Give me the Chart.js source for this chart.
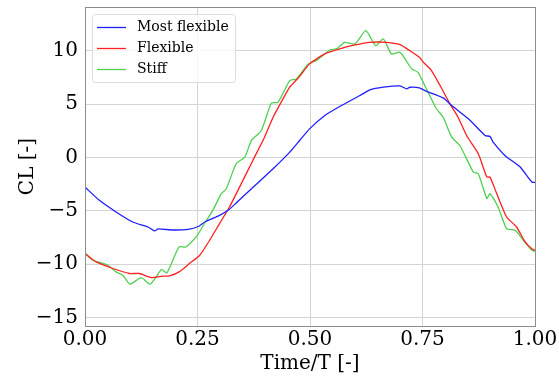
<!DOCTYPE html>
<html>
<head>
<meta charset="utf-8">
<script src="https://cdn.jsdelivr.net/npm/chart.js@4"></script>
<style>
  html, body { margin: 0; padding: 0; background: #fff; }
  #wrap { width: 559px; height: 376px; }
</style>
</head>
<body>
<div id="wrap"><canvas id="clChart" width="559" height="376"></canvas></div>
<script>
// Most flexible
const tMost = [0, 0.032, 0.069, 0.106, 0.14, 0.155, 0.162, 0.195, 0.229, 0.253, 0.266, 0.299, 0.318, 0.336, 0.37, 0.418, 0.455, 0.477, 0.499, 0.533, 0.566, 0.611, 0.633, 0.663, 0.7, 0.715, 0.722, 0.743, 0.759, 0.796, 0.815, 0.852, 0.889, 0.9, 0.907, 0.933, 0.967, 0.993, 1.0];
const clMost = [-2.78, -4.02, -5.11, -6.05, -6.52, -6.89, -6.7, -6.8, -6.74, -6.45, -6.05, -5.43, -4.96, -4.27, -2.93, -1.06, 0.5, 1.59, 2.68, 3.93, 4.77, 5.8, 6.33, 6.58, 6.7, 6.42, 6.58, 6.52, 6.2, 5.58, 4.86, 3.62, 2.06, 1.96, 1.43, 0.19, -0.9, -2.3, -2.35];

// Flexible
const tFlex = [0, 0.025, 0.062, 0.099, 0.121, 0.147, 0.173, 0.188, 0.21, 0.232, 0.255, 0.277, 0.299, 0.321, 0.351, 0.373, 0.399, 0.418, 0.44, 0.455, 0.477, 0.499, 0.533, 0.566, 0.6, 0.633, 0.67, 0.7, 0.722, 0.743, 0.752, 0.77, 0.789, 0.811, 0.829, 0.848, 0.874, 0.893, 0.9, 0.915, 0.937, 0.959, 0.978, 0.993, 1.0];
const clFlex = [-9.01, -9.79, -10.41, -10.88, -10.88, -11.26, -11.13, -11.1, -10.7, -9.95, -9.17, -7.76, -6.2, -4.65, -2.15, -0.28, 1.9, 3.77, 5.49, 6.58, 7.6, 8.77, 9.7, 10.17, 10.54, 10.79, 10.79, 10.57, 10.0, 9.38, 8.92, 8.14, 6.74, 5.02, 3.77, 2.06, 0.35, -1.84, -1.84, -3.4, -5.58, -6.52, -7.92, -8.55, -8.7];

// Stiff
const tStiff = [0, 0.017, 0.036, 0.051, 0.069, 0.084, 0.1, 0.125, 0.145, 0.17, 0.182, 0.209, 0.224, 0.247, 0.27, 0.284, 0.303, 0.314, 0.336, 0.355, 0.37, 0.392, 0.414, 0.429, 0.455, 0.47, 0.496, 0.514, 0.544, 0.559, 0.577, 0.6, 0.624, 0.646, 0.663, 0.681, 0.7, 0.726, 0.74, 0.755, 0.781, 0.796, 0.815, 0.833, 0.863, 0.874, 0.893, 0.9, 0.918, 0.937, 0.956, 0.974, 0.993, 1.0];
const clStiff = [-8.95, -9.64, -9.88, -10.1, -10.73, -11.04, -11.88, -11.26, -11.88, -10.51, -10.82, -8.39, -8.39, -7.45, -5.89, -4.96, -3.4, -2.93, -0.59, 0.03, 1.59, 2.53, 5.08, 5.17, 7.2, 7.36, 8.77, 9.07, 10.07, 10.17, 10.79, 10.64, 11.88, 10.48, 11.1, 9.7, 9.85, 8.3, 7.98, 6.74, 4.56, 3.77, 1.9, 1.12, -1.37, -1.53, -3.86, -3.4, -4.65, -6.67, -6.83, -7.76, -8.7, -8.8];

const xTicks = [0, 0.25, 0.5, 0.75, 1.0];
const yTicks = [-15, -10, -5, 0, 5, 10];

const serif = "'DejaVu Serif', serif";

function toPoints(xs, ys) {
  return xs.map((x, i) => ({ x: x, y: ys[i] }));
}

// Cadre autour de la zone de tracé + légende dans le coin
const framePlugin = {
  id: "frame",
  afterDraw(chart) {
    const ctx = chart.ctx;
    const a = chart.chartArea;
    ctx.save();
    ctx.strokeStyle = "#8c8c8c";
    ctx.lineWidth = 1;
    ctx.strokeRect(a.left + 0.5, a.top + 0.5, a.right - a.left, a.bottom - a.top);

    // légende
    const lx = a.left + 7, ly = a.top + 7, lw = 143, lh = 68;
    ctx.fillStyle = "rgba(255,255,255,0.8)";
    ctx.strokeStyle = "#dcdcdc";
    ctx.beginPath();
    ctx.roundRect(lx + 0.5, ly + 0.5, lw, lh, 3);
    ctx.fill();
    ctx.stroke();
    ctx.font = "14px " + serif;
    ctx.textBaseline = "middle";
    chart.data.datasets.forEach((ds, i) => {
      const y = ly + 13 + i * 21;
      ctx.strokeStyle = ds.borderColor;
      ctx.lineWidth = 1.3;
      ctx.beginPath();
      ctx.moveTo(lx + 5, y + 0.5);
      ctx.lineTo(lx + 34, y + 0.5);
      ctx.stroke();
      ctx.fillStyle = "#000";
      ctx.fillText(ds.label, lx + 45, y);
    });
    ctx.restore();
  },
};

new Chart(document.getElementById("clChart").getContext("2d"), {
  type: "line",
  data: {
    datasets: [
      { label: "Most flexible", data: toPoints(tMost, clMost), borderColor: "#1f1fff" },
      { label: "Flexible", data: toPoints(tFlex, clFlex), borderColor: "#ff2020" },
      { label: "Stiff", data: toPoints(tStiff, clStiff), borderColor: "#4fd04f" },
    ],
  },
  options: {
    responsive: false,
    animation: false,
    layout: { padding: { top: 7, right: 24, left: 0, bottom: 0 } },
    elements: {
      point: { radius: 0 },
      line: { borderWidth: 1.3, tension: 0.2 },
    },
    plugins: {
      legend: { display: false },
      tooltip: { enabled: false },
    },
    scales: {
      x: {
        type: "linear",
        min: 0,
        max: 1,
        afterBuildTicks: (s) => { s.ticks = xTicks.map((v) => ({ value: v })); },
        afterFit: (s) => { s.height = 50; s.paddingLeft = 0; s.paddingRight = 0; },
        ticks: {
          color: "#000",
          font: { family: serif, size: 20 },
          padding: 2,
          maxRotation: 0,
          callback: (v) => v.toFixed(2),
        },
        grid: { color: "#d4d4d4", drawTicks: false },
        border: { display: false },
        title: {
          display: true,
          text: "Time/T [-]",
          color: "#000",
          font: { family: serif, size: 20 },
          padding: { top: -2, bottom: 0 },
        },
      },
      y: {
        min: -15.8,
        max: 14.1,
        afterBuildTicks: (s) => { s.ticks = yTicks.map((v) => ({ value: v })); },
        afterFit: (s) => { s.width = 85; s.paddingTop = 0; s.paddingBottom = 0; },
        ticks: {
          color: "#000",
          font: { family: serif, size: 20 },
          padding: 7,
          callback: (v) => String(v).replace("-", "\u2212"),
        },
        grid: { color: "#d4d4d4", drawTicks: false },
        border: { display: false },
        title: {
          display: true,
          text: "CL [-]",
          color: "#000",
          font: { family: serif, size: 20 },
          padding: { top: 16, bottom: 0 },
        },
      },
    },
  },
  plugins: [framePlugin],
});
</script>
</body>
</html>
